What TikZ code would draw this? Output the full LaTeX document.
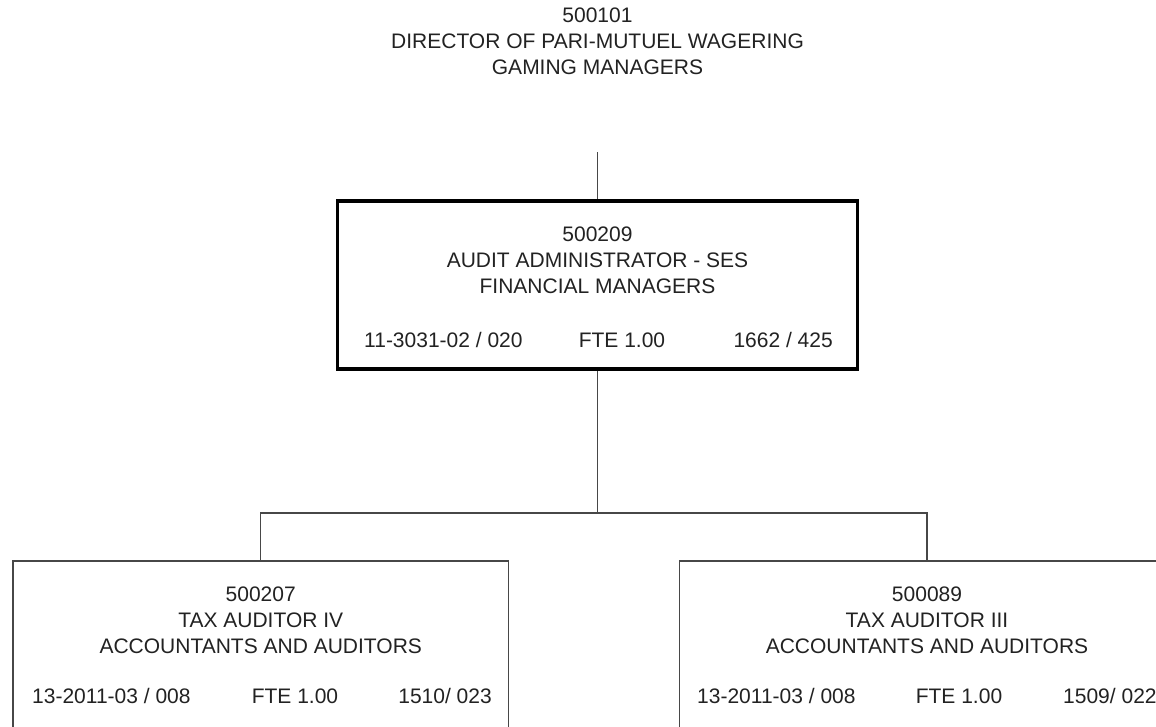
\documentclass[tikz,border=0pt]{standalone}
\usepackage{fontspec}
\setmainfont{Liberation Sans}
\definecolor{ink}{HTML}{222222}
\definecolor{wire}{HTML}{474747}
\begin{document}
\begin{tikzpicture}[x=1pt,y=-1pt,
  txt/.style={inner sep=0pt,text=ink,font=\fontsize{21}{26}\selectfont},
  title/.style={txt,align=center,anchor=north},
  detail/.style={txt,anchor=base},
  mgrbox/.style={draw=black,line width=3.5pt,rectangle,minimum width=520pt,minimum height=168pt,inner sep=0pt},
  posbox/.style={draw=wire,line width=1.4pt,rectangle,minimum width=495.5pt,minimum height=200pt,inner sep=0pt},
  conn/.style={draw=wire,line width=1.4pt}]
\useasboundingbox (0,0) rectangle (1156,726);
\fill[white] (0,0) rectangle (1156,726);
\clip (0,0) rectangle (1156,726);

% reporting line to the director
\node[title] (dir) at (597.5,8) {500101\\DIRECTOR OF PARI-MUTUEL WAGERING\\GAMING MANAGERS};
\coordinate (dirlink) at (597.5,152);

% audit administrator
\node[mgrbox] (mgr) at (597.5,285) {};
\node[title] (mgrt) at (597.5,226.5) {500209\\AUDIT ADMINISTRATOR - SES\\FINANCIAL MANAGERS};
\node[detail,anchor=base west] (mgrc) at (364,347.5) {11-3031-02 / 020};
\node[detail] (mgrf) at (622,347.5) {FTE 1.00};
\node[detail,anchor=base east] (mgrp) at (833,347.5) {1662 / 425};

% tax auditors
\node[posbox] (ta4) at (260.75,661) {};
\node[title] (ta4t) at (260.75,586.5) {500207\\TAX AUDITOR IV\\ACCOUNTANTS AND AUDITORS};
\node[detail,anchor=base west] (ta4c) at (32,703.5) {13-2011-03 / 008};
\node[detail] (ta4f) at (295,703.5) {FTE 1.00};
\node[detail,anchor=base east] (ta4p) at (492,703.5) {1510/ 023};

\node[posbox] (ta3) at (927,661) {};
\node[title] (ta3t) at (927,586.5) {500089\\TAX AUDITOR III\\ACCOUNTANTS AND AUDITORS};
\node[detail,anchor=base west] (ta3c) at (697,703.5) {13-2011-03 / 008};
\node[detail] (ta3f) at (959,703.5) {FTE 1.00};
\node[detail,anchor=base west] (ta3p) at (1063,703.5) {1509/ 022};

% connectors
\coordinate (bus) at (597.5,513);
\draw[conn] (dirlink) -- (mgr.north);
\draw[conn] (mgr.south) -- (bus);
\draw[conn] (ta4.north) |- (bus) -| (ta3.north);
\end{tikzpicture}
\end{document}
